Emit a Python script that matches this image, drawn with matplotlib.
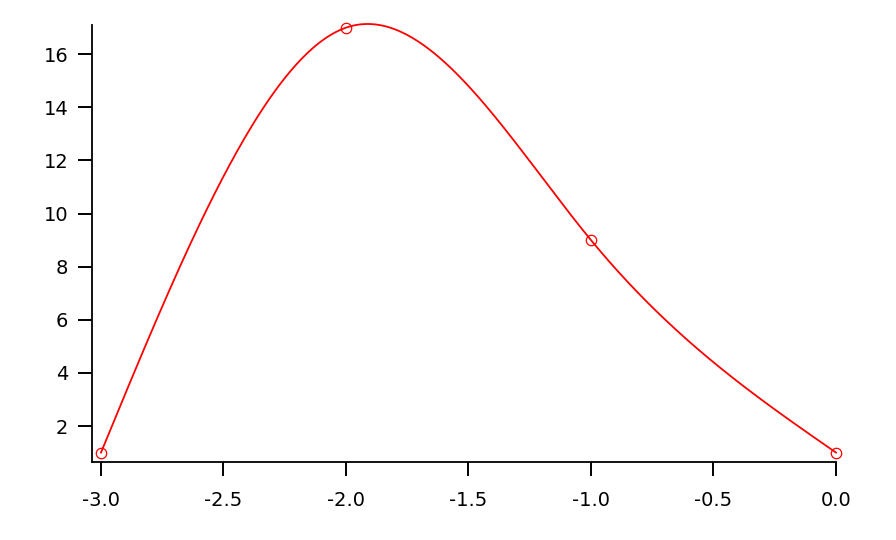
import numpy as np
import matplotlib
matplotlib.use("Agg")
import matplotlib.pyplot as plt

# Data
x_pts = [-3.0, -2.0, -1.0, 0.0]
y_pts = [1.0, 17.0, 9.0, 1.0]
x_ticks = [-3.0, -2.5, -2.0, -1.5, -1.0, -0.5, 0.0]
y_ticks = [2, 4, 6, 8, 10, 12, 14, 16]


def natural_spline(xk, yk, n=400):
    xk = np.asarray(xk, float)
    yk = np.asarray(yk, float)
    m = len(xk)
    h = np.diff(xk)
    A = np.zeros((m, m))
    r = np.zeros(m)
    A[0, 0] = A[-1, -1] = 1.0
    for i in range(1, m - 1):
        A[i, i - 1] = h[i - 1]
        A[i, i] = 2 * (h[i - 1] + h[i])
        A[i, i + 1] = h[i]
        r[i] = 6 * ((yk[i + 1] - yk[i]) / h[i] - (yk[i] - yk[i - 1]) / h[i - 1])
    M = np.linalg.solve(A, r)
    xs = np.linspace(xk[0], xk[-1], n)
    ys = np.empty_like(xs)
    for j, xv in enumerate(xs):
        i = min(np.searchsorted(xk, xv, side="right") - 1, m - 2)
        t0 = xk[i + 1] - xv
        t1 = xv - xk[i]
        hi = h[i]
        ys[j] = (M[i] * t0 ** 3 / (6 * hi) + M[i + 1] * t1 ** 3 / (6 * hi)
                 + (yk[i] / hi - M[i] * hi / 6) * t0
                 + (yk[i + 1] / hi - M[i + 1] * hi / 6) * t1)
    return xs, ys


plt.rcParams['font.family'] = ['DejaVu Sans']

fig = plt.figure(figsize=(8.96, 5.4), dpi=100)
W, H = 896, 540
ax = fig.add_axes([92 / W, (H - 462) / H, (836 - 92) / W, (462 - 25) / H])

xs, ys = natural_spline(x_pts, y_pts)
ax.plot(xs, ys, color='#ff0000', lw=1.3, clip_on=False)
ax.plot(x_pts, y_pts, linestyle='none', marker='o', markersize=7.5,
        markerfacecolor='none', markeredgecolor='#ff0000', markeredgewidth=0.9,
        clip_on=False)

ax.set_xlim(-3.0367, 0.0)
ax.set_ylim(0.646, 17.10)
ax.set_xticks(x_ticks)
ax.set_xticklabels([f"{v:.1f}" for v in x_ticks])
ax.set_yticks(y_ticks)
ax.set_yticklabels([str(v) for v in y_ticks])

for s in ['top', 'right']:
    ax.spines[s].set_visible(False)
for s in ['left', 'bottom']:
    ax.spines[s].set_linewidth(1.3)

ax.tick_params(axis='both', direction='out', length=10, width=1.4, labelsize=14)
ax.tick_params(axis='x', pad=11)
ax.tick_params(axis='y', pad=7)

fig.savefig("out.png", dpi=100)
